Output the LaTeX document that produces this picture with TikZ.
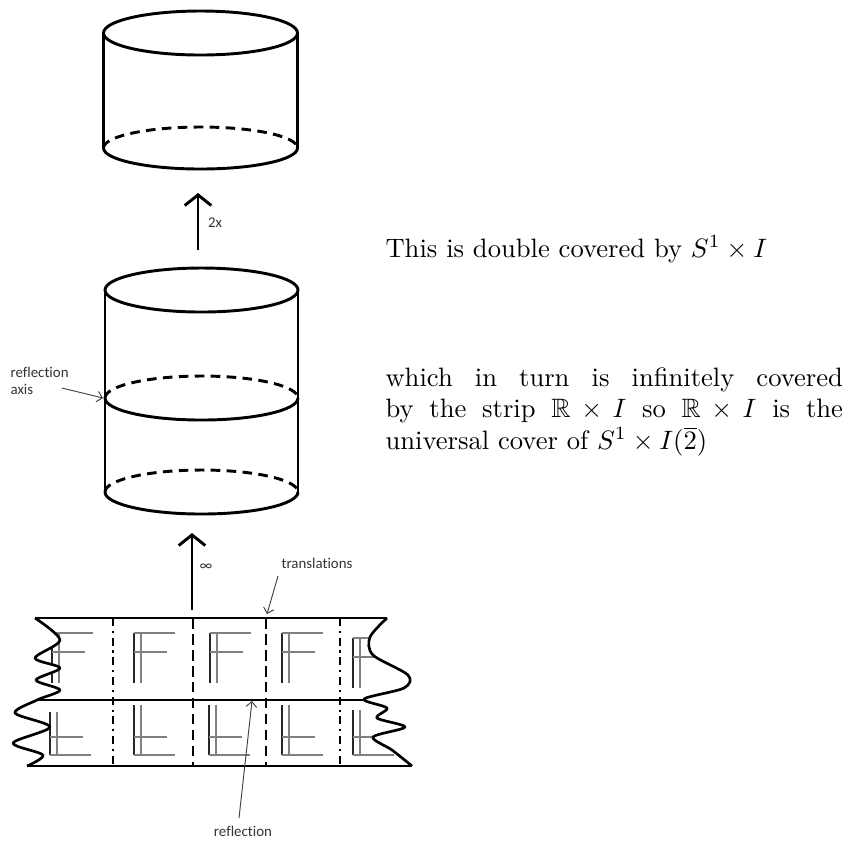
\documentclass[tikz,border=0pt]{standalone}
\usepackage{amsmath,amssymb}
\usepackage{fontspec}
\newfontfamily\notefont[Ligatures=NoCommon]{Carlito}
\usetikzlibrary{arrows.meta}

\begin{document}
\begin{tikzpicture}[x=0.376pt,y=-0.376pt,
  edge/.style={line width=1.1pt},
  hidden/.style={line width=1.1pt, dash pattern=on 3.6pt off 2.4pt},
  bigarrow/.style={line width=1.1pt,-{Straight Barb[length=4pt,width=10pt]}},
  notearrow/.style={draw=black!75,line width=0.35pt,-{Straight Barb[length=2pt,width=4pt]}},
  note/.style={font=\notefont\fontsize{5.6}{6.2}\selectfont, text=black!80, inner sep=0pt},
  maintext/.style={anchor=base west, inner sep=0pt},
  stripline/.style={line width=1.1pt},
  wavy/.style={line width=1pt, line join=round},
  dashdotv/.style={line width=1pt, dash pattern=on 3pt off 1.8pt on 0.8pt off 1.8pt},
  dashv/.style={line width=1pt, dash pattern=on 4pt off 2pt},
  glyphdark/.style={draw=black!85, line width=0.45pt},
  glyphlight/.style={draw=black!50, line width=0.55pt}
]
\useasboundingbox (0,0) rectangle (846,842);

% --- top cylinder
\draw[edge] (200.5,33) ellipse [x radius=97, y radius=22];
\draw[edge] (103.5,33) -- (103.5,148);
\draw[edge] (297.5,33) -- (297.5,148);
\draw[hidden] (103.5,148) arc[start angle=180, end angle=360, x radius=97, y radius=21];
\draw[edge] (103.5,148) arc[start angle=180, end angle=0, x radius=97, y radius=21];

% --- arrow between the cylinders
\coordinate (upS) at (198,250);
\coordinate (upE) at (198,193);
\draw[bigarrow] (upS) -- (upE);
\node[note] (twox) at (215,223) {2x};

% --- middle cylinder with its reflection axis
\draw[edge] (201.5,290) ellipse [x radius=96.5, y radius=22];
\draw[edge] (105,290) -- (105,492);
\draw[edge] (298,290) -- (298,492);
\draw[hidden] (105,398) arc[start angle=180, end angle=360, x radius=96.5, y radius=22];
\draw[edge] (105,398) arc[start angle=180, end angle=0, x radius=96.5, y radius=22];
\draw[hidden] (105,492) arc[start angle=180, end angle=360, x radius=96.5, y radius=22];
\draw[edge] (105,492) arc[start angle=180, end angle=0, x radius=96.5, y radius=22];

\node[note, anchor=west, align=left] (axislbl) at (10,381) {reflection\\axis};
\coordinate (axT) at (62,388);
\coordinate (axH) at (103,398);
\draw[notearrow] (axT) -- (axH);

% --- arrow from the strip
\coordinate (infS) at (192,610);
\coordinate (infE) at (192,533);
\draw[bigarrow] (infS) -- (infE);
\node[note] (inf) at (206,567) {∞};

\node[note] (translbl) at (317,563) {translations};
\coordinate (trT) at (278,576);
\coordinate (trH) at (267,614);
\draw[notearrow] (trT) -- (trH);

% --- the strip: letters clipped to its ragged outline
\begin{scope}
  \clip plot[smooth] coordinates {(35,618) (60,640) (35,658) (60,668) (36,680) (60,690) (37,700) (15,713) (50,727) (13,743) (43,755) (27,766)}
     -- plot[smooth] coordinates {(412,766) (392,750) (373,737) (405,727) (377,718) (387,708) (364,699) (404,688) (408,675) (373,655) (370,637) (387,618)}
     -- cycle;
  \foreach \gx/\gy in {52/633,134/633,210/633,282/633,353/638}{
    \draw[glyphdark] (\gx,\gy) -- (\gx,\gy+50);
    \draw[glyphlight] (\gx+7,\gy) -- (\gx+7,\gy+50);
    \draw[glyphlight] (\gx,\gy) -- (\gx+41,\gy);
    \draw[glyphlight] (\gx,\gy+19) -- (\gx+33,\gy+19);
  }
  \foreach \gx/\gy in {50/712,134/705,209/705,282/705,353/710}{
    \draw[glyphdark] (\gx,\gy) -- (\gx,755);
    \draw[glyphlight] (\gx+7,\gy) -- (\gx+7,755);
    \draw[glyphlight] (\gx,737) -- (\gx+33,737);
    \draw[glyphlight] (\gx,755) -- (\gx+41,755);
  }
\end{scope}

\draw[dashdotv] (113,618) -- (113,766);
\draw[dashv] (193,618) -- (193,766);
\draw[dashv] (266,618) -- (266,766);
\draw[dashdotv] (340,618) -- (340,766);

\draw[stripline] (35,618) -- (387,618);
\draw[stripline] (37,700) -- (364,700);
\draw[stripline] (27,766) -- (412,766);
\draw[wavy] plot[smooth] coordinates {(35,618) (60,640) (35,658) (60,668) (36,680) (60,690) (37,700) (15,713) (50,727) (13,743) (43,755) (27,766)};
\draw[wavy] plot[smooth] coordinates {(387,618) (370,637) (373,655) (408,675) (404,688) (364,699) (387,708) (377,718) (405,727) (373,737) (392,750) (412,766)};

\node[note] (refllbl) at (243,831) {reflection};
\coordinate (rfT) at (239,818);
\coordinate (rfH) at (252,701);
\draw[notearrow] (rfT) -- (rfH);

% --- explanatory text
\node[maintext] (line0) at (385,257) {This is double covered by $S^1\times I$};
\node[maintext] (para1) at (385,386) {\makebox[172pt][s]{which in turn is infinitely covered}};
\node[maintext] (para2) at (385,417) {\makebox[172pt][s]{by the strip $\mathbb{R}\times I$ so $\mathbb{R}\times I$ is the}};
\node[maintext] (para3) at (385,449) {universal cover of $S^1\times I(\overline{2})$};
\end{tikzpicture}
\end{document}
